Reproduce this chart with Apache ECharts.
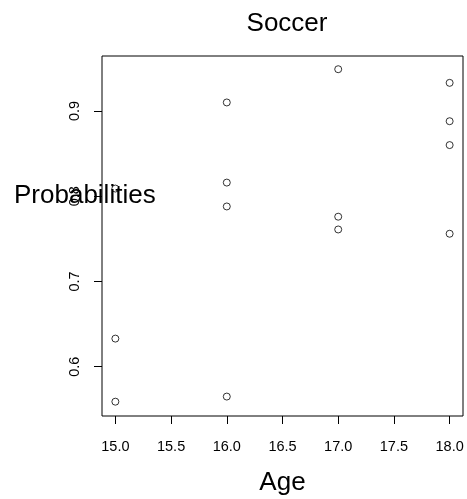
<!DOCTYPE html>
<html>
<head>
<meta charset="utf-8">
<script src="https://cdn.jsdelivr.net/npm/echarts@6/dist/echarts.min.js"></script>
<style>
    html, body { margin: 0; padding: 0; background: #fff; }
    #chart { width: 467px; height: 499px; }
</style>
</head>
<body>
<div id="chart"></div>
<script>
    // data
    var ages = [15, 15, 15, 16, 16, 16, 16, 17, 17, 17, 18, 18, 18, 18];
    var probs = [0.559, 0.633, 0.809, 0.910, 0.816, 0.788, 0.565, 0.949, 0.776, 0.761, 0.933, 0.888, 0.860, 0.756];
    var xTicks = [15, 15.5, 16, 16.5, 17, 17.5, 18];
    var yTicks = [0.6, 0.7, 0.8, 0.9];

    var points = ages.map(function (a, i) { return [a, probs[i]]; });
    var font = 'Liberation Sans, Arial, sans-serif';
    var bigText = { fontFamily: font, fontSize: 26, fontWeight: 'normal', color: '#000' };

    var myChart = echarts.init(document.getElementById('chart'));
    myChart.setOption({
        animation: false,
        title: [{
            text: 'Soccer',
            left: 287,
            top: 11,
            textAlign: 'center',
            padding: 0,
            textStyle: bigText
        }, {
            // y axis title, drawn horizontally over the 0.8 tick like the original
            text: 'Probabilities',
            left: 14,
            top: 183,
            padding: 0,
            z: 1,
            textStyle: bigText
        }],
        grid: {
            left: 102, right: 4, top: 56, bottom: 83,
            outerBoundsMode: 'none',
            containLabel: false,
            show: true, borderColor: '#000', borderWidth: 1, backgroundColor: 'transparent'
        },
        xAxis: {
            type: 'value',
            min: 14.88,
            max: 18.12,
            name: 'Age',
            nameLocation: 'middle',
            nameGap: 54,
            nameTextStyle: { fontFamily: font, fontSize: 26, color: '#000' },
            splitLine: { show: false },
            axisLine: { show: false },
            axisTick: { show: true, inside: false, length: 8, customValues: xTicks, lineStyle: { color: '#000' } },
            axisLabel: {
                customValues: xTicks,
                margin: 23,
                fontFamily: font, fontSize: 14.5, color: '#000',
                formatter: function (v) { return v.toFixed(1); }
            }
        },
        yAxis: {
            type: 'value',
            min: 0.5422,
            max: 0.9645,
            splitLine: { show: false },
            axisLine: { show: false },
            axisTick: { show: true, inside: false, length: 8, customValues: yTicks, lineStyle: { color: '#000' } },
            axisLabel: {
                customValues: yTicks,
                rotate: 90,
                margin: 20,
                fontFamily: font, fontSize: 14.5, color: '#000',
                formatter: function (v) { return v.toFixed(1); }
            }
        },
        series: [{
            type: 'scatter',
            data: points,
            symbol: 'circle',
            symbolSize: 7,
            z: 3,
            itemStyle: { color: 'rgba(0,0,0,0)', borderColor: '#000', borderWidth: 1 }
        }]
    });
</script>
</body>
</html>
